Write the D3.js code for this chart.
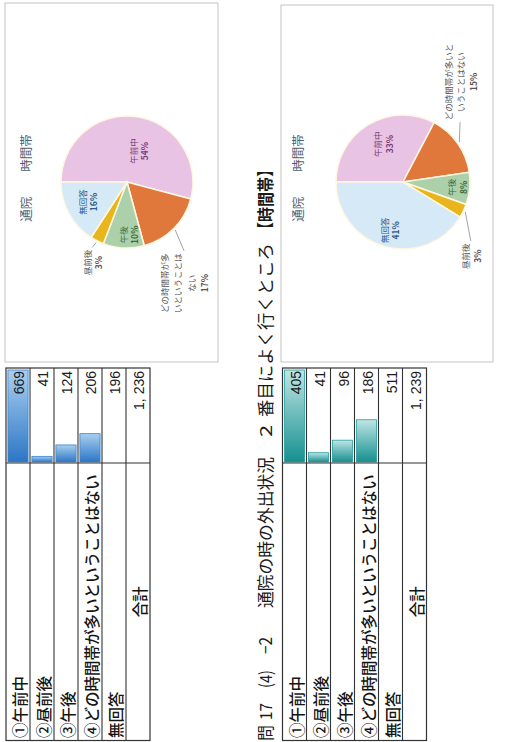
<!DOCTYPE html>
<html><head><meta charset="utf-8">
<script src="https://cdn.jsdelivr.net/npm/d3@7"></script>
<style>html,body{margin:0;padding:0;background:#fff;} svg{display:block}</style>
</head><body>
<svg id="c" width="515" height="742"></svg>
<script>
// ---------- data ----------
const categories = ["①午前中", "②昼前後", "③午後", "④どの時間帯が多いということはない", "無回答"];
const pieNames   = ["午前中", "昼前後", "午後", "どの時間帯が多いということはない", "無回答"];
const totalLabel = "合計";
const values1 = [669, 41, 124, 206, 196];   // 通院 よく行くところ（前問）
const values2 = [405, 41, 96, 186, 511];    // 問17(4)-2 2番目によく行くところ
const pieOrder = [0, 3, 2, 1, 4];           // order of slices, clockwise from 12 o'clock
const chartTitle = "通院　　時間帯";
const sliceColors = ["#e8c3e3", "#e8b61c", "#abd0aa", "#df783a", "#d6e9f6"];
const labelColors = ["#7a3d78", "#555555", "#3c6a3f", "#555555", "#2e5c8a"];

// ---------- setup (page drawn rotated -90°) ----------
const svg = d3.select("#c");
const defs = svg.append("defs");
function grad(id, c0, c1) {
  const g = defs.append("linearGradient").attr("id", id).attr("x1", 0).attr("x2", 1).attr("y1", 0).attr("y2", 0);
  g.append("stop").attr("offset", 0).attr("stop-color", c0);
  g.append("stop").attr("offset", 1).attr("stop-color", c1);
}
grad("gBlue", "#2c76c6", "#a9cff0");
grad("gTeal", "#15908f", "#bfe5e4");

svg.append("rect").attr("width", 515).attr("height", 742).attr("fill", "#fff");
const page = svg.append("g").attr("transform", "translate(0,742) rotate(-90)");

const jp = "'Noto Sans CJK JP', 'Noto Sans', sans-serif";

// ---------- tables ----------
function drawTable(v0, values, gradId, barStroke) {
  const g = page.append("g");
  const rows = categories.length + 1, rh = 24;
  const uL = 1.5, uD = 279, uR = 374;
  const y = d3.scaleBand().domain(d3.range(rows)).range([v0, v0 + rows * rh]).paddingInner(0.16).paddingOuter(0.08);
  const barVals = values.slice(0, 4);
  const x = d3.scaleLinear().domain([0, d3.max(barVals)]).range([0, 92]);

  g.selectAll("rect.bar").data(barVals).join("rect").attr("class", "bar")
    .attr("x", uD + 1).attr("y", (d, i) => y(i)).attr("width", d => x(d)).attr("height", y.bandwidth())
    .attr("fill", `url(#${gradId})`).attr("stroke", barStroke).attr("stroke-width", 0.8);

  g.append("rect").attr("x", uL).attr("y", v0).attr("width", uR - uL).attr("height", rows * rh)
    .attr("fill", "none").attr("stroke", "#333").attr("stroke-width", 1.2);
  for (let i = 1; i < rows; i++) {
    g.append("line").attr("x1", uL).attr("x2", uR).attr("y1", v0 + i * rh).attr("y2", v0 + i * rh)
      .attr("stroke", "#333").attr("stroke-width", 1.1);
  }
  g.append("line").attr("x1", uD).attr("x2", uD).attr("y1", v0).attr("y2", v0 + rows * rh)
    .attr("stroke", "#333").attr("stroke-width", 1.1);

  g.selectAll("text.cat").data(categories).join("text").attr("class", "cat")
    .attr("x", 4).attr("y", (d, i) => v0 + i * rh + rh / 2 + 1).attr("dominant-baseline", "central")
    .attr("font-family", jp).attr("font-size", 15.5).attr("font-weight", 500).attr("fill", "#151515").text(d => d);
  g.append("text").attr("x", (uL + uD) / 2).attr("y", v0 + 5 * rh + rh / 2 + 1).attr("dominant-baseline", "central")
    .attr("text-anchor", "middle").attr("font-family", jp).attr("font-size", 15.5).attr("font-weight", 500)
    .attr("fill", "#151515").text(totalLabel);

  const fmt = v => d3.format(",")(v).replace(/,/g, ", ");
  const nums = values.map(fmt).concat([fmt(d3.sum(values))]);
  g.selectAll("text.val").data(nums).join("text").attr("class", "val")
    .attr("x", 371).attr("y", (d, i) => v0 + i * rh + rh / 2 + 1).attr("dominant-baseline", "central")
    .attr("text-anchor", "end").attr("font-family", "'Liberation Sans', Arial, sans-serif").attr("font-size", 14)
    .attr("fill", "#1a1a1a").text(d => d);
}
drawTable(6, values1, "gBlue", "#3b84cc");
drawTable(282.5, values2, "gTeal", "#26a0a0");

// ---------- main title ----------
const tg = page.append("g").attr("font-family", jp).attr("fill", "#1a1a1a").attr("font-size", 17);
[["問", 1, 16], ["17", 22, 17], ["(4)", 54, 18], ["−2", 88, 17],
 ["通院の時の外出状況", 134, 151], ["2", 305, 12], ["番目によく行くところ", 325, 174], ["【時間帯】", 505, 75]]
.forEach(([t, u, len]) => {
  tg.append("text").attr("x", u).attr("y", 264).attr("dominant-baseline", "central")
    .attr("textLength", len).attr("lengthAdjust", "spacingAndGlyphs")
    .attr("font-weight", t === "【時間帯】" ? 700 : 400).text(t);
});

// ---------- pies ----------
function drawPie(values, cfg) {
  const g = page.append("g");
  g.append("rect").attr("x", cfg.box[0]).attr("y", cfg.box[1]).attr("width", cfg.box[2]).attr("height", cfg.box[3])
    .attr("fill", "#fff").attr("stroke", "#c4c4c4").attr("stroke-width", 1);
  g.append("text").attr("x", cfg.cu + 4).attr("y", cfg.titleV).attr("text-anchor", "middle").attr("dominant-baseline", "central")
    .attr("font-family", jp).attr("font-size", 12.5).attr("fill", "#4f5f73").text(chartTitle);

  const total = d3.sum(values);
  const data = pieOrder.map(i => ({ i, v: values[i] }));
  const arcs = d3.pie().sort(null).value(d => d.v)(data);
  const arc = d3.arc().innerRadius(0).outerRadius(cfg.R);
  const pg = g.append("g").attr("transform", `translate(${cfg.cu},${cfg.cv})`);
  pg.selectAll("path").data(arcs).join("path").attr("d", arc)
    .attr("fill", d => sliceColors[d.data.i]).attr("stroke", "#fff7e2").attr("stroke-width", 1.5);

  arcs.forEach(a => {
    const i = a.data.i, lc = cfg.labels[i];
    const mid = (a.startAngle + a.endAngle) / 2;
    const ang = mid + lc.da * Math.PI / 180, r = lc.rr * cfg.R;
    const lu = Math.sin(ang) * r, lv = -Math.cos(ang) * r;
    const name = pieNames[i];
    const lines = [];
    const w = i === 3 ? cfg.wrap : 99;
    for (let k = 0; k < name.length; k += w) lines.push(name.slice(k, k + w));
    const pct = Math.round(a.data.v / total * 100) + "%";
    const all = lines.concat([pct]);
    const lh = i === 3 ? cfg.lhLong : cfg.lh;
    const t = pg.append("text").attr("x", lu).attr("y", lv).attr("text-anchor", "middle")
      .attr("font-family", jp).attr("font-size", 8.5).attr("fill", labelColors[i]);
    all.forEach((s, k) => {
      t.append("tspan").attr("x", lu).attr("y", lv + (k - (all.length - 1) / 2) * lh)
        .attr("dominant-baseline", "central").attr("font-weight", k === all.length - 1 ? 700 : 400).text(s);
    });
    if (lc.rr > 1) {
      const bb = t.node().getBBox();
      const eu = lu < 0 ? bb.x + bb.width + 2 : bb.x - 2;
      const su = Math.sin(mid) * (cfg.R + 2), sv = -Math.cos(mid) * (cfg.R + 2);
      pg.append("line").attr("x1", su).attr("y1", sv).attr("x2", eu).attr("y2", lv)
        .attr("stroke", "#8a8a8a").attr("stroke-width", 0.8);
    }
  });
}

drawPie(values1, {
  box: [380, 5, 359, 213], cu: 560, cv: 127, R: 66, titleV: 25, wrap: 7, lh: 11, lhLong: 13.5,
  labels: [ {da: 13, rr: 0.5}, {da: -3.6, rr: 1.33}, {da: -4, rr: 0.8}, {da: 15.7, rr: 1.76}, {da: 1.6, rr: 0.67} ]
});
drawPie(values2, {
  box: [380, 281, 357, 212], cu: 560, cv: 403, R: 67, titleV: 297, wrap: 9, lh: 11.5, lhLong: 12.5,
  labels: [ {da: 3, rr: 0.64}, {da: 22, rr: 1.5}, {da: 0, rr: 0.81}, {da: -25, rr: 1.72}, {da: 0, rr: 0.75} ]
});
</script>
</body></html>
